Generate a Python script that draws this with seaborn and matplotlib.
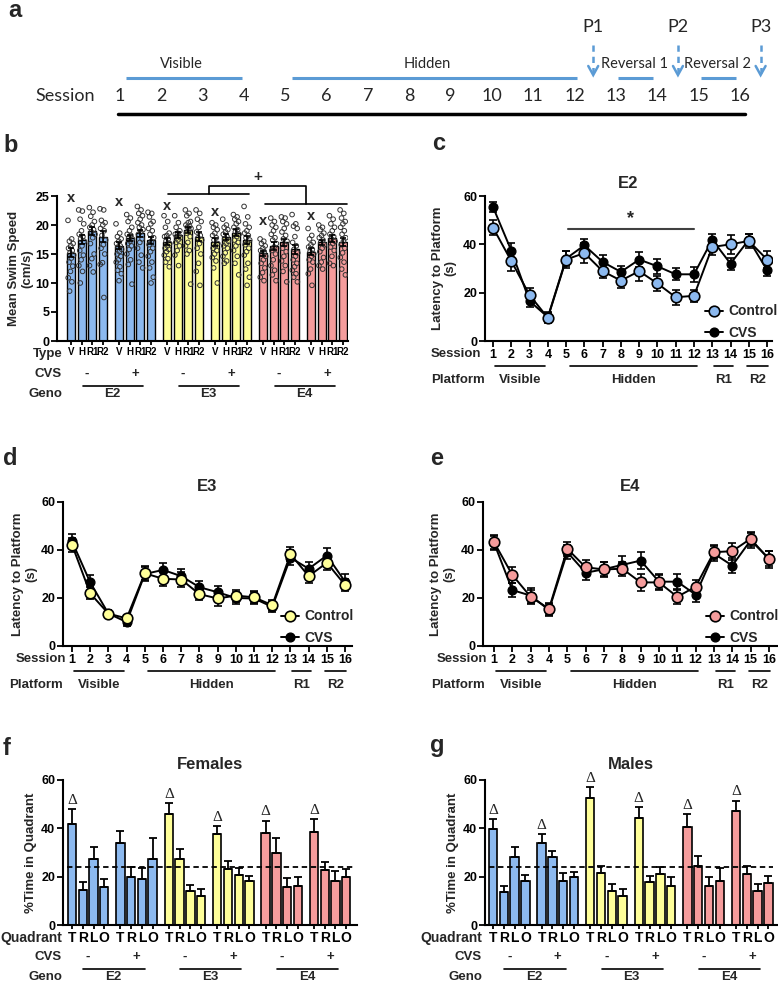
import numpy as np
import pandas as pd
import matplotlib
matplotlib.use("Agg")
import matplotlib.pyplot as plt
import seaborn as sns
from matplotlib.lines import Line2D

# ---------------- data ----------------
sessions = list(range(1, 17))
phase_labels = ["Visible", "Hidden", "Reversal 1", "Reversal 2"]
probe_labels = ["P1", "P2", "P3"]
platform_labels = ["Visible", "Hidden", "R1", "R2"]
type_labels = ["V", "H", "R1", "R2"]
quadrant_labels = ["T", "R", "L", "O"]
geno_labels = ["E2", "E3", "E4"]
cvs_labels = ["-", "+"]
legend_labels = ["Control", "CVS"]

# panel b: mean swim speed (cm/s); order V,H,R1,R2 (CVS -) then V,H,R1,R2 (CVS +)
speed_mean_E2 = [15.2, 17.5, 18.9, 18.0, 16.4, 17.7, 18.6, 17.4]
speed_mean_E3 = [17.1, 18.3, 19.1, 18.0, 17.0, 18.0, 18.7, 17.4]
speed_mean_E4 = [15.1, 16.4, 17.0, 15.8, 15.4, 17.0, 17.7, 17.1]
speed_sem_E2 = [0.8, 0.7, 0.7, 0.9, 0.6, 0.5, 0.6, 0.6]
speed_sem_E3 = [0.6, 0.5, 0.5, 0.8, 0.7, 0.5, 0.6, 0.7]
speed_sem_E4 = [0.5, 0.7, 0.6, 0.8, 0.6, 0.5, 0.6, 0.7]
speed_pts_E2 = [
    [20.8, 17.6, 17.2, 16.8, 16.4, 16.0, 15.6, 15.2, 14.8, 14.3, 13.6, 12.9, 12.0, 10.9, 10.2, 8.6],
    [22.6, 22.4, 21.0, 20.2, 19.0, 18.4, 18.0, 17.6, 17.2, 16.4, 15.6, 14.8, 14.0, 13.0, 12.0, 10.0],
    [23.0, 22.2, 21.5, 20.6, 20.0, 19.6, 19.2, 18.8, 18.4, 17.8, 16.8, 15.0, 14.2, 13.0, 11.9],
    [22.8, 22.6, 20.8, 20.4, 20.0, 19.4, 19.0, 18.2, 17.4, 16.6, 16.0, 15.0, 13.5, 13.2, 7.5],
    [20.2, 18.6, 18.0, 17.6, 17.2, 16.8, 16.4, 16.2, 15.8, 15.4, 15.0, 14.6, 14.0, 13.6, 12.8, 12.2, 11.6, 10.4],
    [21.8, 21.2, 20.6, 19.6, 19.0, 18.4, 18.2, 17.8, 17.6, 17.2, 16.8, 16.4, 15.8, 15.0, 14.0, 13.2, 9.8],
    [23.2, 22.6, 22.0, 21.6, 21.0, 20.4, 20.0, 19.6, 19.2, 18.8, 18.4, 17.6, 17.0, 16.0, 14.8, 13.6, 12.6],
    [22.2, 22.0, 21.4, 20.6, 20.2, 19.4, 19.0, 18.4, 17.8, 17.2, 16.6, 16.0, 15.4, 14.6, 13.6, 12.6, 11.0, 10.0],
]
speed_pts_E3 = [
    [21.6, 20.6, 19.6, 18.6, 18.2, 18.0, 17.6, 17.2, 16.8, 16.4, 16.0, 15.8, 15.4, 14.8, 14.2, 13.6, 12.8],
    [21.6, 20.4, 19.6, 19.0, 18.6, 18.4, 18.2, 18.0, 17.8, 17.4, 17.0, 16.4, 15.6, 14.8, 13.0],
    [22.6, 22.0, 21.6, 20.6, 20.4, 20.0, 19.8, 19.6, 19.4, 19.2, 18.6, 18.0, 17.0, 16.4, 15.6, 15.0, 9.8],
    [22.6, 22.0, 21.0, 20.6, 19.6, 18.8, 18.2, 17.8, 17.4, 16.8, 16.0, 15.0, 13.4, 12.0, 9.6],
    [20.4, 20.0, 19.6, 19.2, 18.6, 18.2, 17.8, 17.4, 16.8, 16.4, 16.0, 15.6, 15.0, 14.4, 13.8, 12.6, 10.0],
    [21.0, 20.0, 19.6, 19.2, 18.8, 18.4, 18.0, 17.6, 17.2, 16.8, 16.4, 16.0, 15.2, 14.6, 13.8, 13.4],
    [21.8, 21.4, 21.0, 20.6, 20.2, 19.6, 19.2, 18.8, 18.4, 18.0, 17.4, 17.0, 16.4, 15.6, 14.6, 13.4, 11.4],
    [23.2, 21.4, 20.2, 19.6, 19.0, 18.6, 18.2, 17.8, 17.4, 17.0, 16.6, 16.0, 15.4, 14.8, 13.4, 12.4, 11.0, 9.6],
]
speed_pts_E4 = [
    [17.6, 17.2, 16.8, 16.4, 16.0, 15.6, 15.4, 15.0, 14.6, 14.0, 13.4, 12.6, 11.8, 11.0, 10.4],
    [21.2, 20.6, 20.0, 19.6, 19.0, 18.4, 17.8, 17.4, 16.8, 16.2, 15.6, 15.0, 14.0, 13.0, 12.2, 11.4, 10.4],
    [21.4, 21.2, 20.6, 20.2, 19.4, 18.8, 18.2, 17.6, 17.2, 16.6, 16.0, 15.4, 14.6, 13.8, 13.0, 12.0, 10.2],
    [21.8, 20.2, 19.8, 19.4, 18.0, 17.0, 16.4, 15.8, 15.2, 14.6, 14.0, 13.4, 12.8, 12.2, 11.6, 11.0, 10.2],
    [19.4, 18.2, 17.6, 17.0, 16.6, 16.2, 15.8, 15.4, 15.0, 14.6, 14.0, 13.6, 12.4, 11.6, 9.6],
    [20.0, 19.6, 19.2, 18.6, 18.2, 17.8, 17.4, 17.0, 16.6, 16.0, 15.4, 14.4, 13.6, 13.0, 12.4],
    [21.6, 21.0, 20.2, 19.6, 19.0, 18.4, 18.0, 17.6, 17.2, 16.8, 16.2, 15.6, 14.6, 13.4, 13.0],
    [22.6, 22.0, 21.2, 20.6, 20.2, 19.6, 19.0, 18.4, 17.8, 17.2, 16.6, 16.0, 15.2, 14.4, 13.6, 12.4, 11.4],
]

# panels c-e: latency to platform (s), sessions 1-16
lat_E2_ctrl = [46.9, 33.1, 19.0, 9.6, 33.7, 36.4, 28.9, 25.0, 28.9, 23.8, 18.1, 18.7, 38.9, 40.0, 41.4, 33.7]
lat_E2_ctrl_sem = [3.0, 4.0, 3.0, 2.0, 3.5, 4.0, 3.0, 3.0, 4.0, 3.0, 3.0, 2.5, 3.5, 4.0, 3.0, 3.5]
lat_E2_cvs = [55.4, 37.4, 16.5, 9.9, 34.1, 39.6, 32.7, 28.6, 33.7, 30.9, 27.6, 27.6, 41.9, 32.0, 41.9, 29.3]
lat_E2_cvs_sem = [2.0, 3.0, 2.5, 2.0, 3.0, 2.5, 3.0, 2.5, 3.0, 3.0, 2.5, 3.0, 2.5, 2.5, 2.5, 2.5]

lat_E3_ctrl = [42.2, 21.9, 13.5, 11.5, 30.3, 28.0, 27.7, 21.6, 19.8, 21.0, 20.3, 17.0, 38.3, 29.1, 34.7, 25.4]
lat_E3_ctrl_sem = [3.0, 2.5, 1.5, 1.5, 3.0, 3.0, 3.0, 2.5, 3.0, 2.5, 2.5, 2.0, 3.0, 3.0, 3.0, 2.5]
lat_E3_cvs = [43.6, 26.5, 13.5, 10.0, 30.0, 31.7, 29.1, 24.5, 22.4, 20.0, 19.8, 16.3, 36.8, 32.2, 37.7, 26.8]
lat_E3_cvs_sem = [3.0, 3.0, 1.5, 1.5, 3.0, 3.0, 3.0, 2.5, 2.5, 2.5, 2.5, 2.0, 3.0, 3.0, 3.0, 3.0]

lat_E4_ctrl = [43.3, 29.6, 20.5, 15.5, 40.5, 32.8, 31.9, 32.2, 26.5, 26.5, 20.5, 24.7, 39.1, 39.5, 44.7, 36.1]
lat_E4_ctrl_sem = [3.0, 3.5, 3.0, 2.5, 3.0, 3.0, 3.0, 3.0, 3.5, 3.0, 3.0, 3.0, 3.0, 3.5, 3.0, 3.5]
lat_E4_cvs = [43.0, 23.3, 21.0, 15.0, 39.1, 30.5, 32.0, 33.8, 35.6, 26.8, 26.8, 21.4, 38.5, 33.5, 44.0, 36.5]
lat_E4_cvs_sem = [3.0, 3.0, 3.0, 2.5, 3.0, 3.0, 3.0, 3.5, 3.5, 3.0, 3.0, 3.0, 3.0, 3.0, 3.0, 3.0]

# panels f-g: % time in quadrant; order T,R,L,O (CVS -) then T,R,L,O (CVS +)
fem_E2 = [41.8, 14.5, 27.3, 15.6, 33.8, 19.7, 19.0, 27.3]
fem_E3 = [45.9, 27.3, 14.2, 12.0, 37.7, 23.2, 20.7, 18.3]
fem_E4 = [38.2, 29.9, 15.6, 16.1, 38.6, 22.8, 18.3, 19.7]
fem_E2_err = [6.1, 3.2, 5.1, 3.4, 5.1, 4.4, 4.4, 8.6]
fem_E3_err = [4.4, 4.0, 2.4, 2.8, 3.3, 3.4, 3.0, 2.0]
fem_E4_err = [5.0, 6.0, 3.7, 3.9, 5.1, 3.1, 4.0, 3.5]
male_E2 = [39.6, 13.5, 28.0, 18.2, 33.8, 28.0, 18.3, 19.7]
male_E3 = [52.5, 21.4, 14.2, 12.0, 44.4, 17.9, 21.1, 16.3]
male_E4 = [40.4, 24.6, 16.3, 18.2, 47.3, 21.0, 14.1, 17.2]
male_E2_err = [4.1, 2.6, 4.4, 2.5, 3.9, 2.8, 3.1, 2.4]
male_E3_err = [4.4, 3.0, 2.6, 2.9, 4.3, 2.5, 3.0, 3.4]
male_E4_err = [5.4, 4.1, 3.4, 5.2, 4.2, 3.4, 2.7, 3.2]
chance_level = 24
fem_delta_groups = [0, 2, 3, 4, 5]
male_delta_groups = [0, 1, 2, 3, 4, 5]

# ---------------- style ----------------
sns.set_theme(style="ticks")
plt.rcParams["font.family"] = ["Liberation Sans", "DejaVu Sans"]
plt.rcParams["font.weight"] = "bold"
plt.rcParams["axes.labelweight"] = "bold"
plt.rcParams["axes.titleweight"] = "bold"

W, H = 778, 982
fig = plt.figure(figsize=(W / 100, H / 100), dpi=100)

BLUE = "#8CB9EF"
YEL = "#FFFF99"
PINK = "#F59C9C"
ABLUE = "#5B9BD5"
geno_colors = {"E2": BLUE, "E3": YEL, "E4": PINK}


def rect(l, r, top, bottom):
    return [l / W, 1 - bottom / H, (r - l) / W, (bottom - top) / H]


def style_axes(ax, xlen=4):
    sns.despine(ax=ax)
    for sp in ["left", "bottom"]:
        ax.spines[sp].set_linewidth(1.5)
        ax.spines[sp].set_color("black")
    ax.tick_params(axis="both", direction="out", length=4, width=1.3,
                   labelsize=9, pad=1.5, colors="black")
    ax.tick_params(axis="x", length=xlen)
    for lab in ax.get_xticklabels() + ax.get_yticklabels():
        lab.set_fontweight("bold")


def row_label(ax_bottom_px, right_px, below_px, s, size=9.5):
    fig.text(right_px / W, 1 - (ax_bottom_px + below_px) / H, s, ha="right",
             va="center", fontsize=size, fontweight="bold")


def below_text(ax, x, below_px, s, size=9.5):
    hpx = ax.get_position().height * H
    ax.text(x, -below_px / hpx, s, transform=ax.get_xaxis_transform(),
            ha="center", va="center", fontsize=size, fontweight="bold", clip_on=False)


def below_line(ax, x0, x1, below_px):
    hpx = ax.get_position().height * H
    ax.plot([x0, x1], [-below_px / hpx] * 2, transform=ax.get_xaxis_transform(),
            color="black", lw=1.2, clip_on=False)


def panel_letter(x_px, base_px, s):
    fig.text(x_px / W, 1 - base_px / H, s, ha="left", va="baseline",
             fontsize=17, fontweight="bold")


# ---------------- panel a ----------------
axa = fig.add_axes([0, 1 - 125 / H, 1, 125 / H])
pitch = 41.33
axa.set_xlim(1 - 120 / pitch, 1 + (W - 120) / pitch)
axa.set_ylim(125, 0)
axa.axis("off")
fa = dict(family=["Lato", "DejaVu Sans"], fontweight="normal")
for s in sessions:
    axa.text(s, 96, str(s), ha="center", va="center", fontsize=13, **fa)
axa.text(0.4, 96, "Session", ha="right", va="center", fontsize=13, **fa)
phase_spans = [(1.15, 3.95), (5.15, 12.05), (13.05, 13.9), (15.05, 15.9)]
phase_text_x = [2.48, 8.43, 13.46, 15.45]
for (x0, x1), tx, lab in zip(phase_spans, phase_text_x, phase_labels):
    axa.plot([x0, x1], [78, 78], color=ABLUE, lw=2.2, solid_capstyle="butt")
    axa.text(tx, 64, lab, ha="center", va="center", fontsize=10.5, **fa)
probe_x = [12.45, 14.5, 16.5]
for px_, lab in zip(probe_x, probe_labels):
    axa.plot([px_, px_], [45, 73], color=ABLUE, lw=1.8, ls=(0, (2.5, 2)))
    axa.plot([px_ - 0.12, px_, px_ + 0.12], [66, 75, 66], color=ABLUE, lw=1.8,
             solid_joinstyle="miter")
    axa.text(px_, 27, lab, ha="center", va="center", fontsize=13, **fa)
axa.plot([0.95, 16.12], [114, 114], color="black", lw=2.5)
panel_letter(8, 17, "a")

# ---------------- bar positions ----------------
bar_pos = [g * 4.5 + i for g in range(6) for i in range(4)]
bar_geno = [geno_labels[g // 2] for g in range(6) for i in range(4)]
group_center = [g * 4.5 + 1.5 for g in range(6)]
pair_center = [(group_center[2 * k] + group_center[2 * k + 1]) / 2 for k in range(3)]

# ---------------- panel b ----------------
axb = fig.add_axes(rect(57, 348, 196, 341))
speed_mean = speed_mean_E2 + speed_mean_E3 + speed_mean_E4
speed_sem = speed_sem_E2 + speed_sem_E3 + speed_sem_E4
speed_pts = speed_pts_E2 + speed_pts_E3 + speed_pts_E4
df_b = pd.DataFrame({"pos": bar_pos, "speed": speed_mean, "geno": bar_geno})
sns.barplot(data=df_b, x="pos", y="speed", hue="geno", palette=geno_colors,
            native_scale=True, dodge=False, width=0.75, saturation=1,
            edgecolor="black", linewidth=1.0, legend=False, errorbar=None, ax=axb)
for p, pts in zip(bar_pos, speed_pts):
    n = len(pts)
    offs = (((np.arange(n) * 0.618) % 1) - 0.5) * 0.56
    axb.scatter(p + offs, pts, s=11, facecolors="none", edgecolors="#333333",
                linewidths=0.7, zorder=3)
axb.errorbar(bar_pos, speed_mean, yerr=speed_sem, fmt="none", ecolor="black",
             elinewidth=1.2, capsize=2.5, capthick=1.2, zorder=4)
axb.set_xlim(-1.31, 25.96)
axb.set_ylim(0, 25)
axb.set_yticks([0, 5, 10, 15, 20, 25])
axb.set_xticks(bar_pos)
axb.set_xticklabels(type_labels * 6)
axb.set_xlabel("")
axb.set_ylabel("Mean Swim Speed\n(cm/s)", fontsize=9.5, linespacing=1.1)
axb.yaxis.set_label_coords(-0.082, 0.5)
style_axes(axb, xlen=3)
for lab in axb.get_xticklabels():
    lab.set_fontsize(7)
x_marks_y = [24.6, 23.9, 23.3, 22.2, 20.7, 21.6]
for g in range(6):
    axb.text(g * 4.5, x_marks_y[g], "x", ha="center", va="center", fontsize=10.5,
             fontweight="bold", clip_on=False)
# bracket E3 vs E4
e3_span = (9.1, 16.7)
e4_span = (18.2, 25.9)
axb.plot(e3_span, [25.3, 25.3], color="black", lw=1.2, clip_on=False)
axb.plot(e4_span, [23.6, 23.6], color="black", lw=1.2, clip_on=False)
c3 = sum(e3_span) / 2
c4 = sum(e4_span) / 2
axb.plot([c3, c3, c4, c4], [25.3, 26.7, 26.7, 23.6], color="black", lw=1.2, clip_on=False)
axb.text((c3 + c4) / 2, 28.2, "+", ha="center", va="center", fontsize=11,
         fontweight="bold", clip_on=False)
row_label(341, 63, 13, "Type")
row_label(341, 62, 33, "CVS")
row_label(341, 62, 53, "Geno")
for g in range(6):
    below_text(axb, group_center[g], 33, cvs_labels[g % 2])
for k in range(3):
    below_line(axb, pair_center[k] - 2.6, pair_center[k] + 3.0, 45)
    below_text(axb, pair_center[k] + 0.15, 53, geno_labels[k])
panel_letter(3, 152, "b")


# ---------------- panels c-e ----------------
def latency_panel(rpx, xlim, ctrl, ctrl_sem, cvs, cvs_sem, color, title, title_pad,
                  leg_right, ylab_x, session_right, platform_right, sig=None):
    ax = fig.add_axes(rect(*rpx))
    df = pd.DataFrame({
        "session": sessions * 2,
        "latency": cvs + ctrl,
        "group": ["CVS"] * 16 + ["Control"] * 16,
    })
    ax.errorbar(sessions, cvs, yerr=cvs_sem, fmt="none", ecolor="black",
                elinewidth=1.2, capsize=3, capthick=1.2, zorder=2)
    ax.errorbar(sessions, ctrl, yerr=ctrl_sem, fmt="none", ecolor="black",
                elinewidth=1.2, capsize=3, capthick=1.2, zorder=2)
    sns.lineplot(data=df[df.group == "CVS"], x="session", y="latency", color="black",
                 marker="o", markersize=6.3, markerfacecolor="black",
                 markeredgecolor="black", markeredgewidth=1.0, linewidth=1.4,
                 ax=ax, zorder=3, legend=False)
    sns.lineplot(data=df[df.group == "Control"], x="session", y="latency", color="black",
                 marker="o", markersize=7.6, markerfacecolor=color,
                 markeredgecolor="black", markeredgewidth=1.2, linewidth=1.4,
                 ax=ax, zorder=4, legend=False)
    ax.set_xlim(*xlim)
    ax.set_ylim(0, 60)
    ax.set_yticks([0, 20, 40, 60])
    ax.set_xticks(sessions)
    ax.set_xlabel("")
    ax.set_ylabel("Latency to Platform\n(s)", fontsize=9.5, linespacing=1.1)
    ax.yaxis.set_label_coords(ylab_x, 0.5)
    ax.set_title(title, fontsize=12, fontweight="bold", pad=title_pad)
    style_axes(ax)
    bottom = rpx[3]
    row_label(bottom, session_right, 13, "Session")
    row_label(bottom, platform_right, 39, "Platform")
    spans = [(1.1, 3.85), (5.2, 12.15), (13.1, 14.15), (14.9, 16.05)]
    for (x0, x1), lab in zip(spans, platform_labels):
        below_line(ax, x0, x1, 25)
        below_text(ax, (x0 + x1) / 2, 39, lab)
    if sig is not None:
        ax.plot([5.1, 12.0], [46.2, 46.2], color="#404040", lw=1.5)
        ax.text(8.55, 50.5, "*", ha="center", va="center", fontsize=13, fontweight="bold")
    handles = [
        Line2D([], [], color="black", lw=1.4, marker="o", markersize=7.6,
               markerfacecolor=color, markeredgecolor="black", markeredgewidth=1.2),
        Line2D([], [], color="black", lw=1.4, marker="o", markersize=6.3,
               markerfacecolor="black", markeredgecolor="black"),
    ]
    ax.legend(handles, legend_labels, loc="lower right",
              bbox_to_anchor=(leg_right / W, 1 - (bottom - 1) / H),
              bbox_transform=fig.transFigure, frameon=False,
              prop={"size": 10, "weight": "bold"}, handlelength=1.3,
              handletextpad=0.4, labelspacing=0.55, borderpad=0, borderaxespad=0)
    return ax


latency_panel((485, 772, 196, 341), (0.56, 16.27), lat_E2_ctrl, lat_E2_ctrl_sem,
              lat_E2_cvs, lat_E2_cvs_sem, BLUE, "E2", 6, 778, -0.098, 481, 485, sig=True)
panel_letter(432, 150, "c")
latency_panel((63, 352, 502, 646), (0.505, 16.38), lat_E3_ctrl, lat_E3_ctrl_sem,
              lat_E3_cvs, lat_E3_cvs_sem, YEL, "E3", 8, 354, -0.09, 66, 63)
panel_letter(3, 465, "d")
latency_panel((483, 777, 502, 646), (0.4, 16.44), lat_E4_ctrl, lat_E4_ctrl_sem,
              lat_E4_cvs, lat_E4_cvs_sem, PINK, "E4", 8, 779, -0.095, 487, 485)
panel_letter(430, 465, "e")


# ---------------- panels f-g ----------------
def quadrant_panel(rpx, xlim, means, errs, delta_groups, title, ylab_x, lab_right):
    ax = fig.add_axes(rect(*rpx))
    df = pd.DataFrame({"pos": bar_pos, "pct": means, "geno": bar_geno})
    sns.barplot(data=df, x="pos", y="pct", hue="geno", palette=geno_colors,
                native_scale=True, dodge=False, width=0.78, saturation=1,
                edgecolor="black", linewidth=1.2, legend=False, errorbar=None, ax=ax)
    ax.errorbar(bar_pos, means, yerr=[np.zeros(len(errs)), errs], fmt="none",
                ecolor="black", elinewidth=1.3, capsize=3, capthick=1.3, zorder=4)
    ax.axhline(chance_level, xmin=0.015, xmax=0.985, color="black", lw=1.3,
               ls=(0, (3, 2)), zorder=5)
    for g in delta_groups:
        i = g * 4
        ax.text(bar_pos[i], means[i] + errs[i] + 3.6, "\u0394", ha="center", va="center",
                fontsize=11, fontweight="normal",
                family=["Liberation Serif", "DejaVu Serif"], clip_on=False)
    ax.set_xlim(*xlim)
    ax.set_ylim(0, 60)
    ax.set_yticks([0, 20, 40, 60])
    ax.set_xticks(bar_pos)
    ax.set_xticklabels(quadrant_labels * 6)
    ax.set_xlabel("")
    ax.set_ylabel("%Time in Quadrant", fontsize=9.5)
    ax.yaxis.set_label_coords(ylab_x, 0.5)
    ax.set_title(title, fontsize=12, fontweight="bold", pad=8)
    style_axes(ax, xlen=3)
    for lab in ax.get_xticklabels():
        lab.set_fontsize(10)
    bottom = rpx[3]
    row_label(bottom, lab_right, 13, "Quadrant", size=10)
    row_label(bottom, lab_right, 32, "CVS")
    row_label(bottom, lab_right, 52, "Geno")
    for g in range(6):
        below_text(ax, group_center[g], 32, cvs_labels[g % 2])
    for k in range(3):
        below_line(ax, pair_center[k] - 2.7, pair_center[k] + 3.0, 44)
        below_text(ax, pair_center[k] + 0.1, 52, geno_labels[k])
    return ax


quadrant_panel((63, 357, 780, 925), (-0.84, 26.5), fem_E2 + fem_E3 + fem_E4,
               fem_E2_err + fem_E3_err + fem_E4_err, fem_delta_groups, "Females",
               -0.088, 62)
panel_letter(3, 755, "f")
quadrant_panel((485, 777, 780, 925), (-0.74, 26.3), male_E2 + male_E3 + male_E4,
               male_E2_err + male_E3_err + male_E4_err, male_delta_groups, "Males",
               -0.089, 482)
panel_letter(430, 752, "g")

fig.savefig("out.png", dpi=100)
